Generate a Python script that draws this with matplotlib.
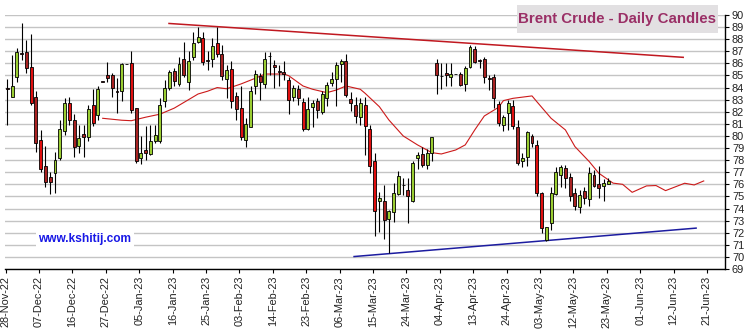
import numpy as np
import matplotlib.pyplot as plt
from matplotlib.patches import Rectangle

plt.rcParams['font.family'] = ['Liberation Sans', 'DejaVu Sans']

# daily candles, one per weekday from 28-Nov-22 (holidays shown flat)
opens = [83.9, 83.25, 84.9, 86.8, 86.9, 85.7, 83.25, 79.7, 77.5, 76.6,
         76.9, 78.15, 80.4, 82.7, 81.3, 79.2, 80.2, 79.95, 82.6, 81.7,
         84.5, 85.05, 85.0, 83.7, 83.75, 85.95, 86.0, 82.3, 78.2, 78.8,
         78.5, 79.6, 79.6, 82.9, 84.0, 85.4, 84.3, 86.4, 84.5, 86.5,
         87.75, 88.1, 86.3, 86.4, 87.65, 86.8, 84.7, 85.5, 83.3, 82.3,
         79.65, 80.75, 84.1, 84.95, 84.3, 86.6, 85.9, 85.35, 85.3, 84.6,
         83.2, 83.85, 82.8, 80.55, 82.4, 82.9, 82.0, 83.1, 84.35, 84.7,
         85.95, 86.2, 83.05, 82.55, 81.55, 82.55, 80.55, 77.9, 74.65, 74.65,
         73.15, 73.75, 75.2, 75.95, 75.5, 74.65, 78.15, 78.5, 77.6, 78.6,
         86.05, 84.95, 85.2, 84.9, 85.1, 85.1, 84.3, 85.7, 87.15, 86.25,
         86.4, 84.8, 84.85, 82.65, 80.9, 81.9, 82.5, 80.7, 77.9, 78.3,
         80.0, 79.25, 75.25, 71.4, 72.8, 75.2, 76.8, 77.35, 76.6, 75.3,
         74.15, 75.45, 74.75, 76.8, 76.05, 75.85, 76.05]
highs = [84.7, 86.7, 87.3, 89.3, 87.9, 88.4, 83.7, 80.5, 79.2, 77.0,
         78.7, 81.3, 83.1, 83.2, 81.8, 80.9, 80.9, 82.6, 83.9, 84.1,
         84.5, 86.1, 85.2, 84.8, 86.0, 85.95, 87.0, 82.3, 80.0, 80.8,
         80.9, 80.9, 83.1, 84.6, 85.45, 85.6, 86.55, 87.8, 87.0, 88.6,
         89.0, 88.6, 87.0, 88.1, 89.0, 87.5, 85.9, 86.2, 83.65, 84.1,
         81.45, 84.1, 85.45, 85.2, 86.9, 86.9, 86.3, 85.9, 86.2, 84.85,
         84.2, 84.2, 83.15, 83.2, 82.95, 83.1, 83.75, 84.5, 85.25, 86.15,
         86.4, 86.8, 83.6, 83.2, 83.1, 83.2, 80.9, 78.6, 75.4, 75.95,
         73.9, 76.1, 77.1, 76.5, 76.5, 77.9, 78.7, 79.05, 78.9, 79.9,
         86.4, 86.0, 86.05, 86.0, 85.1, 85.3, 85.75, 87.5, 87.45, 86.35,
         86.55, 85.05, 85.1, 82.85, 81.75, 83.0, 83.0, 81.3, 78.55, 80.45,
         80.2, 79.65, 75.4, 72.45, 75.8, 77.45, 77.6, 77.6, 76.95, 75.7,
         75.55, 75.8, 77.45, 77.15, 77.5, 76.4, 76.5]
lows = [80.9, 83.25, 84.5, 86.3, 85.2, 82.6, 78.7, 77.0, 75.8, 75.2,
        75.3, 78.0, 80.1, 80.9, 78.3, 78.6, 78.3, 79.6, 80.8, 81.3,
        84.5, 84.5, 83.25, 81.9, 82.9, 85.95, 81.9, 77.8, 77.7, 78.0,
        78.4, 79.45, 79.4, 82.4, 83.8, 84.1, 84.1, 84.9, 83.8, 86.3,
        87.65, 85.9, 85.45, 85.7, 86.55, 84.6, 83.1, 82.3, 81.3, 79.65,
        79.1, 80.7, 83.5, 83.0, 84.0, 85.0, 84.0, 84.1, 84.6, 81.85,
        82.85, 82.6, 80.4, 80.5, 80.75, 81.45, 81.8, 82.45, 84.1, 82.45,
        84.5, 83.2, 82.1, 81.1, 80.9, 78.4, 76.9, 71.7, 72.05, 71.5,
        70.3, 72.9, 75.1, 75.1, 72.8, 74.5, 77.3, 77.45, 77.3, 77.9,
        83.5, 83.85, 84.1, 84.1, 85.1, 84.1, 83.75, 85.6, 86.0, 85.6,
        84.4, 83.8, 82.35, 80.8, 80.45, 80.5, 80.55, 77.6, 77.4, 77.55,
        79.05, 75.05, 72.0, 71.35, 72.25, 75.1, 75.8, 75.7, 74.6, 73.85,
        73.6, 74.4, 74.2, 75.8, 74.85, 74.6, 76.05]
closes = [83.9, 84.16, 86.9, 86.8, 85.6, 82.7, 79.4, 77.25, 76.2, 76.2,
          78.0, 80.6, 82.7, 81.3, 79.1, 79.8, 79.9, 82.2, 81.05, 83.9,
          84.5, 84.8, 84.0, 83.6, 85.95, 85.95, 82.15, 77.9, 78.6, 78.6,
          79.6, 80.1, 82.6, 84.0, 85.3, 84.55, 85.95, 85.0, 86.2, 87.65,
          88.2, 86.15, 86.2, 87.4, 86.8, 84.95, 85.45, 82.85, 82.2, 79.95,
          80.95, 83.7, 85.1, 84.5, 86.35, 86.6, 85.7, 85.3, 85.15, 83.0,
          84.0, 83.1, 80.6, 82.2, 82.75, 82.15, 83.45, 84.25, 84.7, 85.9,
          86.2, 83.4, 82.7, 81.65, 82.75, 80.8, 77.5, 73.8, 74.9, 73.05,
          73.8, 75.3, 76.7, 75.95, 75.0, 77.75, 78.4, 77.6, 78.6, 79.9,
          85.05, 84.95, 85.0, 85.1, 85.1, 84.2, 85.6, 87.35, 86.15, 86.2,
          84.85, 84.75, 83.1, 81.1, 81.6, 82.7, 80.8, 77.75, 78.2, 80.3,
          79.4, 75.3, 72.35, 72.45, 75.3, 77.0, 77.4, 76.5, 75.05, 74.2,
          75.15, 74.85, 76.9, 75.85, 75.7, 76.1, 76.3]

# sharp down days, drawn in the brighter red
strong_down = [5, 7, 13, 18, 26, 41, 44, 47, 49, 59, 62, 75, 76, 77,
               103, 106, 111, 112]

tick_labels = ['28-Nov-22', '07-Dec-22', '16-Dec-22', '27-Dec-22', '05-Jan-23',
               '16-Jan-23', '25-Jan-23', '03-Feb-23', '14-Feb-23', '23-Feb-23',
               '06-Mar-23', '15-Mar-23', '24-Mar-23', '04-Apr-23', '13-Apr-23',
               '24-Apr-23', '03-May-23', '12-May-23', '23-May-23', '01-Jun-23',
               '12-Jun-23', '21-Jun-23']

# moving average, carried on as a projection after the last candle
ma_days = [20, 24, 26, 29, 32, 35, 38, 40, 42, 44, 46, 49, 52, 54, 58, 59,
           62, 64, 67, 69, 71, 74, 75, 78, 80, 83, 86, 89, 91, 94, 96, 98,
           100, 103, 104, 106, 110, 111, 114, 117, 119, 122, 124, 127, 129,
           131, 134, 136, 138, 142, 144, 146]
ma_values = [81.46, 81.3, 81.26, 81.55, 81.8, 82.3, 83.0, 83.47, 83.7, 84.0,
             83.9, 84.3, 84.77, 85.12, 85.12, 84.98, 84.13, 83.86, 83.58, 83.8,
             84.13, 83.86, 83.53, 82.42, 81.32, 80.0, 79.26, 78.62, 78.51,
             78.84, 79.26, 80.5, 81.65, 82.37, 82.92, 83.11, 83.31, 82.84,
             81.46, 80.5, 79.12, 77.88, 76.92, 76.1, 76.0, 75.34, 75.87, 75.9,
             75.48, 76.09, 75.95, 76.28]

upper_trend_days = [33.9, 141.7]
upper_trend_values = [89.3, 86.5]
lower_trend_days = [72.7, 144.4]
lower_trend_values = [70.03, 72.38]

GREEN = '#9acd32'
DARK_RED = '#a82222'
BRIGHT_RED = '#e01010'

o = np.array(opens)
h = np.array(highs)
l = np.array(lows)
c = np.array(closes)
days = np.arange(len(o))

colors = []
for i in days:
    if c[i] > o[i]:
        colors.append(GREEN)
    elif i in strong_down:
        colors.append(BRIGHT_RED)
    else:
        colors.append(DARK_RED)

fig = plt.figure(figsize=(7.52, 3.36), dpi=100)
ax = fig.add_axes([5 / 752, 67 / 336, 720 / 752, 254 / 336])
ax.set_axisbelow(True)
ax.yaxis.grid(True, color='#c4c4c4', lw=1.0)

ax.plot(ma_days, ma_values, color='#cc1a1a', lw=0.8, zorder=1.5)
ax.plot(upper_trend_days, upper_trend_values, color='#c01820', lw=1.1, zorder=1.6)
ax.plot(lower_trend_days, lower_trend_values, color='#1c1ca0', lw=1.1, zorder=1.6)

# wicks then bodies
ax.vlines(days, l, h, color='black', lw=0.8, zorder=2)
bottoms = np.minimum(o, c)
heights = np.maximum(np.abs(c - o), 0.03)
ax.bar(days, heights, bottom=bottoms, width=0.62, color=colors,
       edgecolor='black', lw=0.6, zorder=3)

ax.set_xlim(-0.48, 150.46)
ax.set_ylim(69, 90)

ax.yaxis.tick_right()
ax.set_yticks(range(69, 91))
ax.set_xticks(np.arange(len(tick_labels)) * 7 - 0.33)
ax.set_xticklabels(tick_labels, rotation=90)
ax.tick_params(axis='y', length=3, width=0.8, pad=2, labelsize=7.9,
               labelcolor='#222222')
ax.tick_params(axis='x', length=3, width=0.8, pad=2, labelsize=7.9,
               labelcolor='#222222')

for side in ['left', 'top']:
    ax.spines[side].set_visible(False)
for side in ['right', 'bottom']:
    ax.spines[side].set_linewidth(1.0)
    ax.spines[side].set_color('black')

# title box, top right
fig.add_artist(Rectangle((517 / 752, 1 - 33 / 336), 201 / 752, 28 / 336,
                         transform=fig.transFigure, facecolor='#e2e0e2',
                         edgecolor='none', zorder=5))
fig.text(617 / 752, 1 - 19 / 336, 'Brent Crude - Daily Candles', ha='center',
         va='center', fontsize=10.8, fontweight='bold', color='#9a2f66',
         zorder=6)

fig.text(85 / 752, 1 - 239 / 336, 'www.kshitij.com', ha='center', va='center',
         fontsize=8.6, fontweight='bold', color='#1818e6', zorder=6,
         bbox=dict(boxstyle='square,pad=0.2', facecolor='white', edgecolor='none'))

fig.savefig('out.png', dpi=100)
